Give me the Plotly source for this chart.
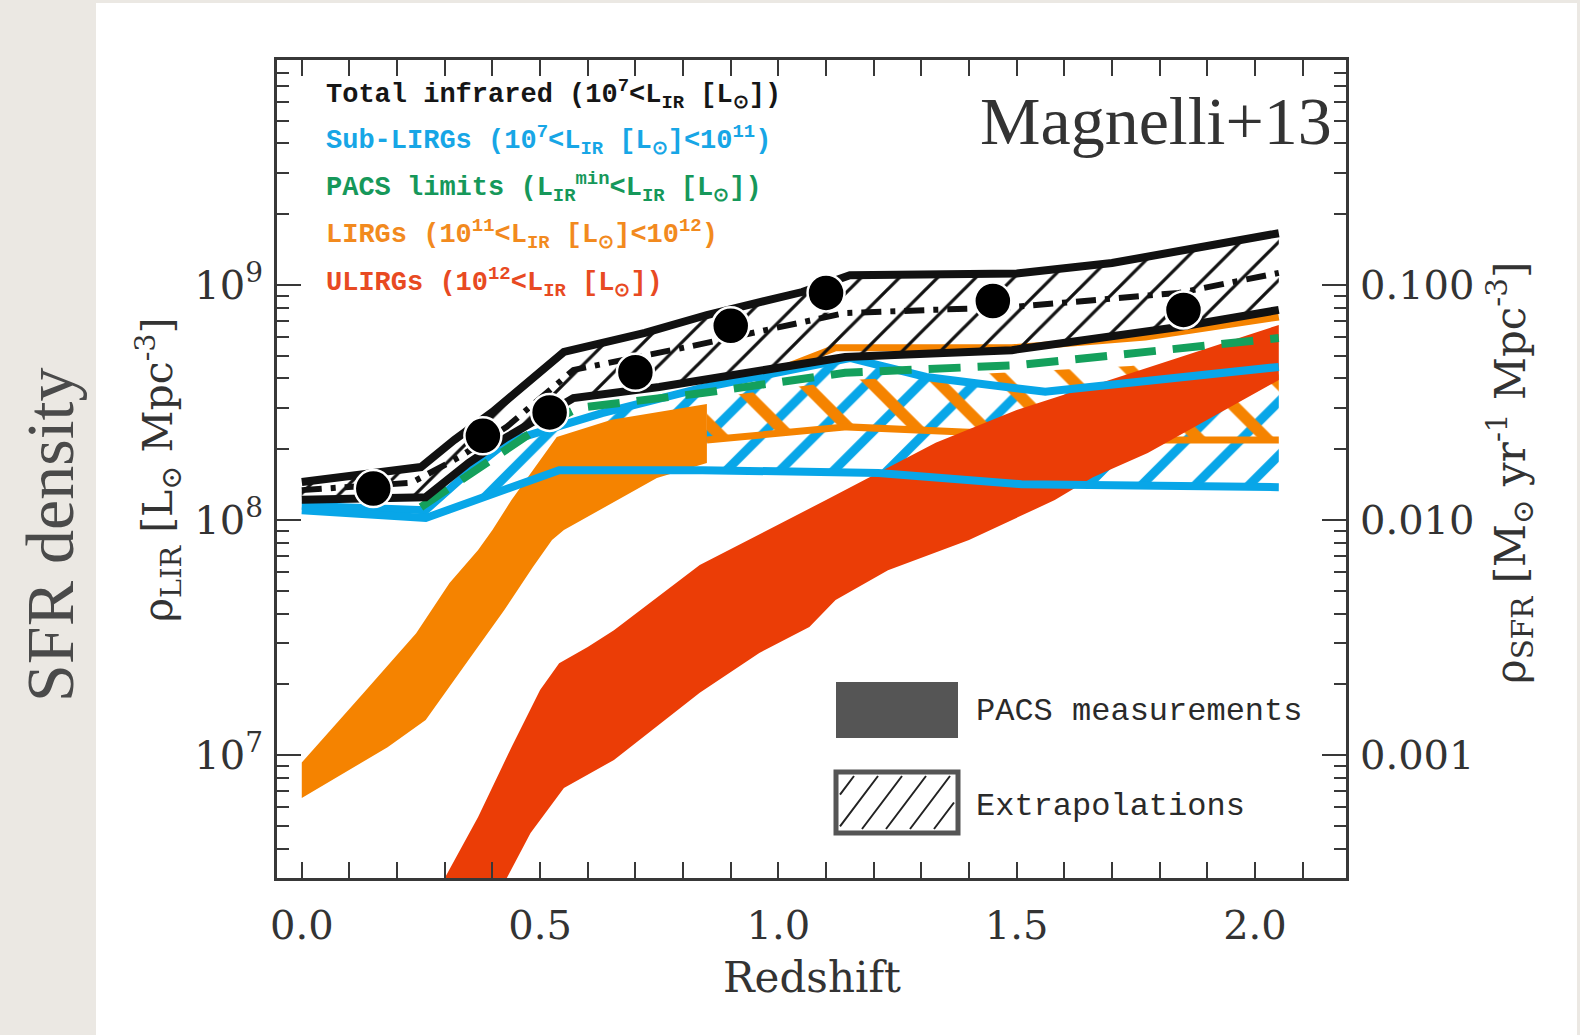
import plotly.graph_objects as go

# ---------------- data: IR luminosity density [L_sun Mpc^-3] vs redshift ----------------
# PACS stacked measurements of the total infrared luminosity density
z_points = [0.15, 0.38, 0.52, 0.70, 0.90, 1.10, 1.45, 1.85]
rho_points = [1.36e8, 2.28e8, 2.87e8, 4.25e8, 6.70e8, 9.25e8, 8.55e8, 7.83e8]

# Total infrared (1e7 < L_IR): envelope and central dash-dot curve
z_tot_up = [0.0, 0.25, 0.32, 0.40, 0.55, 0.72, 0.85, 1.05, 1.15, 1.50, 1.70, 2.05]
rho_tot_up = [1.45e8, 1.68e8, 2.19e8, 2.88e8, 5.19e8, 6.25e8, 7.45e8, 9.33e8, 1.10e9, 1.12e9, 1.24e9, 1.66e9]
z_tot_lo = [0.0, 0.26, 0.35, 0.43, 0.57, 0.75, 1.14, 1.49, 1.84, 2.05]
rho_tot_lo = [1.22e8, 1.25e8, 1.75e8, 2.25e8, 3.30e8, 3.68e8, 4.94e8, 5.28e8, 6.62e8, 7.83e8]
z_tot_mid = [0.0, 0.23, 0.33, 0.43, 0.57, 0.81, 1.14, 1.49, 1.84, 2.05]
rho_tot_mid = [1.34e8, 1.44e8, 1.85e8, 2.49e8, 4.35e8, 5.45e8, 7.60e8, 8.05e8, 9.25e8, 1.125e9]

# Sub-LIRGs (1e7 < L_IR < 1e11)
z_sub_up = [0.0, 0.26, 0.35, 0.43, 0.63, 0.84, 1.15, 1.31, 1.56, 2.05]
rho_sub_up = [1.15e8, 1.10e8, 1.60e8, 2.15e8, 2.85e8, 3.65e8, 4.89e8, 4.06e8, 3.51e8, 4.48e8]
z_sub_lo = [0.0, 0.26, 0.54, 0.84, 1.21, 1.51, 2.05]
rho_sub_lo = [1.10e8, 1.02e8, 1.63e8, 1.63e8, 1.585e8, 1.42e8, 1.38e8]

# PACS detection limit (L_IR^min < L_IR)
z_pacs = [0.25, 0.39, 0.49, 0.58, 0.84, 1.14, 1.51, 2.05]
rho_pacs = [1.135e8, 1.75e8, 2.415e8, 3.00e8, 3.467e8, 4.227e8, 4.571e8, 5.943e8]

# LIRGs (1e11 < L_IR < 1e12): measured band
z_lirg_up = [0.0, 0.08, 0.13, 0.24, 0.31, 0.37, 0.40, 0.44, 0.49, 0.535, 0.65, 0.85]
rho_lirg_up = [9.3e6, 1.41e7, 1.84e7, 3.30e7, 5.40e7, 7.45e7, 9.06e7, 1.216e8, 1.683e8, 2.254e8, 2.667e8, 3.119e8]
z_lirg_lo = [0.0, 0.10, 0.18, 0.26, 0.30, 0.345, 0.425, 0.485, 0.525, 0.55, 0.745, 0.85]
rho_lirg_lo = [6.56e6, 8.63e6, 1.08e7, 1.41e7, 1.84e7, 2.46e7, 4.14e7, 6.31e7, 8.22e7, 9.06e7, 1.51e8, 1.75e8]
# LIRGs: extrapolated range
z_lirg_ext_lo = [0.85, 1.144, 1.387, 1.786, 2.05]
rho_lirg_ext_lo = [2.19e8, 2.49e8, 2.37e8, 2.19e8, 2.19e8]
z_lirg_ext_up = [1.0, 1.12, 1.49, 1.77, 2.05]
rho_lirg_ext_up = [4.35e8, 5.40e8, 5.40e8, 6.01e8, 7.31e8]
z_lirg_ext_top = [0.85, 1.15, 1.51, 1.74, 2.05]
rho_lirg_ext_top = [3.30e8, 3.94e8, 4.27e8, 4.52e8, 5.56e8]

# ULIRGs (1e12 < L_IR)
z_ulirg_up = [0.27, 0.30, 0.37, 0.44, 0.50, 0.54, 0.60, 0.655, 0.835, 1.10, 1.33, 1.50, 1.76, 2.05]
rho_ulirg_up = [2.34e6, 3.0e6, 5.45e6, 1.08e7, 1.89e7, 2.46e7, 2.88e7, 3.40e7, 6.44e7, 1.216e8, 2.13e8, 2.94e8, 4.35e8, 6.76e8]
z_ulirg_lo = [0.41, 0.43, 0.48, 0.55, 0.655, 0.835, 0.96, 1.065, 1.12, 1.23, 1.40, 1.58, 1.66, 1.775, 2.05]
rho_ulirg_lo = [2.51e6, 3.0e6, 4.66e6, 7.24e6, 9.53e6, 1.84e7, 2.72e7, 3.51e7, 4.57e7, 6.12e7, 8.22e7, 1.216e8, 1.52e8, 1.93e8, 3.94e8]

# axes
x_ticks = [0.0, 0.5, 1.0, 1.5, 2.0]
x_ticklabels = ["0.0", "0.5", "1.0", "1.5", "2.0"]
y_ticks = [1e7, 1e8, 1e9]
y_ticklabels = ["10<sup>7</sup>", "10<sup>8</sup>", "10<sup>9</sup>"]
sfr_ticks = [1e-3, 1e-2, 1e-1]
sfr_ticklabels = ["0.001", "0.010", "0.100"]
LIR_TO_SFR = 1e-10

# ---------------- layout geometry ----------------
W, H = 1580, 1035
ML, MR, MT, MB = 277, 234, 60, 157
PW, PH = W - ML - MR, H - MT - MB
XR = [-0.052, 2.191]
YR = [6.477, 9.957]

BLACK = "#111111"
BLUE = "#08a6e8"
GREEN = "#14a05c"
ORANGE = "#f58300"
RED = "#eb3d06"
FRAME = "#383838"


def px(X, Y):
    """page pixel -> paper coordinates"""
    return (X - ML) / PW, (H - MB - Y) / PH


def polygon(zu, ru, zl, rl):
    return list(zu) + list(zl)[::-1], list(ru) + list(rl)[::-1]


def after(z, r, z0):
    pairs = [(a, b) for a, b in zip(z, r) if a >= z0]
    return [p[0] for p in pairs], [p[1] for p in pairs]


fig = go.Figure()


def add_fill(x, y, color=None, pattern=None):
    kw = dict(x=x, y=y, mode="lines", fill="toself", line=dict(width=0),
              hoverinfo="skip", showlegend=False)
    if pattern:
        kw["fillcolor"] = "rgba(0,0,0,0)"
        kw["fillpattern"] = pattern
    else:
        kw["fillcolor"] = color
    fig.add_trace(go.Scatter(**kw))


def add_line(x, y, color, width, dash="solid"):
    fig.add_trace(go.Scatter(x=x, y=y, mode="lines",
                             line=dict(color=color, width=width, dash=dash),
                             hoverinfo="skip", showlegend=False))


# sub-LIRG extrapolation (blue hatch)
zsu, rsu = after(z_sub_up, rho_sub_up, 0.26)
zsl, rsl = after(z_sub_lo, rho_sub_lo, 0.26)
bx, by = polygon(zsu, rsu, zsl, rsl)
add_fill(bx, by, pattern=dict(shape="/", size=38, solidity=0.24, fgcolor=BLUE,
                              bgcolor="rgba(0,0,0,0)", fgopacity=1))

# LIRG extrapolation (orange hatch)
ox, oy = polygon(z_lirg_ext_top, rho_lirg_ext_top, z_lirg_ext_lo, rho_lirg_ext_lo)
add_fill(ox, oy, pattern=dict(shape="\\", size=48, solidity=0.24, fgcolor=ORANGE,
                              bgcolor="rgba(0,0,0,0)", fgopacity=1))

# LIRG measured band
lx, ly = polygon(z_lirg_up, rho_lirg_up, z_lirg_lo, rho_lirg_lo)
add_fill(lx, ly, color=ORANGE)
add_line(z_lirg_ext_lo, rho_lirg_ext_lo, ORANGE, 7)
add_line(z_lirg_ext_up, rho_lirg_ext_up, ORANGE, 7)

# ULIRG band
ux, uy = polygon(z_ulirg_up, rho_ulirg_up, z_ulirg_lo, rho_ulirg_lo)
add_fill(ux, uy, color=RED)

# sub-LIRG bounds
add_line(z_sub_up, rho_sub_up, BLUE, 8)
add_line(z_sub_lo, rho_sub_lo, BLUE, 8)

# PACS limit
add_line(z_pacs, rho_pacs, GREEN, 8, dash="32px,17px")

# total infrared band
tx, ty = polygon(z_tot_up, rho_tot_up, z_tot_lo, rho_tot_lo)
add_fill(tx, ty, pattern=dict(shape="/", size=27, solidity=0.12, fgcolor=BLACK,
                              bgcolor="rgba(0,0,0,0)", fgopacity=1))
add_line(z_tot_up, rho_tot_up, BLACK, 8)
add_line(z_tot_lo, rho_tot_lo, BLACK, 8)
add_line(z_tot_mid, rho_tot_mid, BLACK, 6, dash="20px,9px,5px,9px")

# stacked measurements
fig.add_trace(go.Scatter(x=z_points, y=rho_points, mode="markers",
                         marker=dict(size=37, color="black", line=dict(color="white", width=2.5)),
                         hoverinfo="skip", showlegend=False))

# dummy trace so the SFR axis is drawn
fig.add_trace(go.Scatter(x=[z_points[0]], y=[rho_points[0] * LIR_TO_SFR], yaxis="y2",
                         mode="markers", marker=dict(size=1, opacity=0),
                         hoverinfo="skip", showlegend=False))

# ---------------- axes ----------------
x_minor = [round(0.1 * k, 1) for k in range(1, 22) if k % 5 != 0]
y_minor = [m * 10 ** e for e in range(6, 10) for m in range(2, 10)]
sfr_minor = [v * LIR_TO_SFR for v in y_minor]

tickfont = dict(family="DejaVu Serif", size=40, color="#333333")
common = dict(showgrid=False, zeroline=False, showline=True, linecolor=FRAME, linewidth=3,
              ticks="inside", tickcolor=FRAME, tickwidth=2, tickfont=tickfont)

fig.update_layout(
    width=W, height=H,
    margin=dict(l=ML, r=MR, t=MT, b=MB, pad=0),
    paper_bgcolor="#ebe8e3",
    plot_bgcolor="white",
    showlegend=False,
    xaxis=dict(range=XR, tickmode="array", tickvals=x_ticks, ticktext=x_ticklabels,
               ticklen=16, mirror="allticks", ticklabelstandoff=10,
               minor=dict(tickmode="array", tickvals=x_minor, ticklen=8, tickwidth=2,
                          tickcolor=FRAME, ticks="inside"),
               **common),
    yaxis=dict(type="log", range=YR, tickmode="array", tickvals=y_ticks, ticktext=y_ticklabels,
               ticklen=24, ticklabelstandoff=3,
               minor=dict(tickmode="array", tickvals=y_minor, ticklen=12, tickwidth=2,
                          tickcolor=FRAME, ticks="inside"),
               **common),
    yaxis2=dict(type="log", range=[YR[0] - 10, YR[1] - 10], overlaying="y", side="right",
                anchor="x", tickmode="array", tickvals=sfr_ticks, ticktext=sfr_ticklabels,
                ticklen=24, ticklabelstandoff=3,
                minor=dict(tickmode="array", tickvals=sfr_minor, ticklen=12, tickwidth=2,
                           tickcolor=FRAME, ticks="inside"),
                **common),
)

# ---------------- page decoration and text ----------------
shapes = []
cx0, cy1 = px(96, 3)
cx1, cy0 = px(1577, H)
shapes.append(dict(type="rect", xref="paper", yref="paper", x0=cx0, x1=cx1, y0=cy0, y1=cy1,
                   fillcolor="white", line=dict(width=0), layer="below"))

# key boxes: measurements (filled) and extrapolations (hatched)
bx0, by1 = px(836, 682)
bx1, by0 = px(958, 738)
shapes.append(dict(type="rect", xref="paper", yref="paper", x0=bx0, x1=bx1, y0=by0, y1=by1,
                   fillcolor="#555555", line=dict(width=0)))
hx0, hy1 = px(836, 772)
hx1, hy0 = px(958, 833)
shapes.append(dict(type="rect", xref="paper", yref="paper", x0=hx0, x1=hx1, y0=hy0, y1=hy1,
                   fillcolor="white", line=dict(color="#555555", width=5)))
path = ""
xl, xr, yb, yt, dx = 840, 954, 829, 776, 40
for x_start in range(790, 960, 24):
    t0 = max(0.0, (xl - x_start) / dx)
    t1 = min(1.0, (xr - x_start) / dx)
    if t1 <= t0:
        continue
    p0 = px(x_start + dx * t0, yb - (yb - yt) * t0)
    p1 = px(x_start + dx * t1, yb - (yb - yt) * t1)
    path += f"M{p0[0]},{p0[1]} L{p1[0]},{p1[1]} "
shapes.append(dict(type="path", xref="paper", yref="paper", path=path,
                   line=dict(color="#222222", width=2)))
fig.update_layout(shapes=shapes)

ann = []


def note(X, Y, text, size, color, family, xanchor="left", angle=0):
    x, y = px(X, Y)
    ann.append(dict(x=x, y=y, xref="paper", yref="paper", text=text, showarrow=False,
                    xanchor=xanchor, yanchor="middle", textangle=angle,
                    font=dict(family=family, size=size, color=color)))


MONO = "Liberation Mono"
legend_lines = [
    ("<b>Total infrared (10<sup>7</sup>&lt;L<sub>IR</sub> [L<sub>⊙</sub>])</b>", "#161616"),
    ("<b>Sub-LIRGs (10<sup>7</sup>&lt;L<sub>IR</sub> [L<sub>⊙</sub>]&lt;10<sup>11</sup>)</b>", "#17a6e6"),
    ("<b>PACS limits (L<sub>IR</sub><sup>min</sup>&lt;L<sub>IR</sub> [L<sub>⊙</sub>])</b>", "#16985a"),
    ("<b>LIRGs (10<sup>11</sup>&lt;L<sub>IR</sub> [L<sub>⊙</sub>]&lt;10<sup>12</sup>)</b>", "#f28a1e"),
    ("<b>ULIRGs (10<sup>12</sup>&lt;L<sub>IR</sub> [L<sub>⊙</sub>])</b>", "#e84a22"),
]
for (txt, col), Y in zip(legend_lines, [94, 140, 187, 234, 282]):
    note(324, Y, txt, 27, col, MONO)

note(974, 711, "PACS measurements", 32, "#2a2a2a", MONO)
note(974, 806, "Extrapolations", 32, "#2a2a2a", MONO)

note(1334, 121, "Magnelli+13", 68, "#333333", "Liberation Serif", xanchor="right")
note(50, 535, "SFR density", 68, "#4a4a4a", "Liberation Serif", xanchor="center", angle=-90)
note(812, 977, "Redshift", 42, "#333333", "DejaVu Serif", xanchor="center")
note(158, 470, "ρ<sub>LIR</sub> [L<sub>⊙</sub> Mpc<sup>-3</sup>]", 41, "#333333",
     "DejaVu Serif", xanchor="center", angle=-90)
note(1510, 473, "ρ<sub>SFR</sub> [M<sub>⊙</sub> yr<sup>-1</sup> Mpc<sup>-3</sup>]", 42, "#333333",
     "DejaVu Serif", xanchor="center", angle=-90)
fig.update_layout(annotations=ann)

fig.write_html("out.html")
